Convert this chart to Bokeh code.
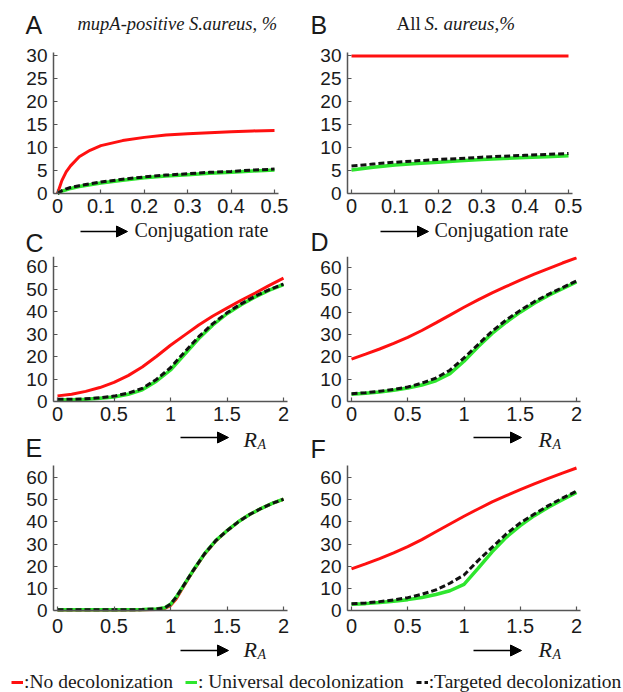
from bokeh.plotting import figure
from bokeh.layouts import column, row
from bokeh.models import Label, Arrow, NormalHead, FixedTicker, Legend, LegendItem, Range1d
from bokeh.embed import file_html
from bokeh.resources import INLINE

# ---------------- data ----------------
conj_rate_a = [0, 0.01, 0.02, 0.03, 0.05, 0.075, 0.1, 0.15, 0.2, 0.25, 0.3, 0.35, 0.4, 0.45, 0.5]
a_none = [0, 2.8, 4.7, 6.0, 8.0, 9.4, 10.4, 11.5, 12.2, 12.7, 13.0, 13.2, 13.4, 13.6, 13.7]
a_universal = [0, 0.5, 0.8, 1.1, 1.5, 1.9, 2.3, 2.9, 3.4, 3.8, 4.1, 4.4, 4.6, 4.9, 5.1]
a_targeted = [0, 0.6, 1.0, 1.3, 1.7, 2.1, 2.5, 3.1, 3.6, 4.0, 4.3, 4.6, 4.8, 5.1, 5.3]

conj_rate_b = [0, 0.05, 0.1, 0.15, 0.2, 0.25, 0.3, 0.35, 0.4, 0.45, 0.5]
b_none = [29.9, 29.9, 29.9, 29.9, 29.9, 29.9, 29.9, 29.9, 29.9, 29.9, 29.9]
b_universal = [5.1, 5.7, 6.2, 6.5, 6.8, 7.1, 7.4, 7.6, 7.8, 8.0, 8.2]
b_targeted = [6.0, 6.4, 6.8, 7.1, 7.4, 7.6, 7.9, 8.1, 8.3, 8.5, 8.7]

ra = [0, 0.125, 0.25, 0.375, 0.5, 0.625, 0.75, 0.875, 1.0, 1.125, 1.25, 1.375, 1.5, 1.625, 1.75, 1.875, 2.0]
c_none = [2.5, 3.2, 4.5, 6.2, 8.5, 11.5, 15.3, 20.0, 25.0, 29.5, 34.0, 38.0, 41.5, 45.0, 48.2, 51.6, 54.8]
c_universal = [0.8, 0.8, 1.0, 1.4, 2.0, 3.2, 5.2, 9.0, 14.0, 21.0, 28.0, 34.0, 39.0, 43.0, 46.5, 49.5, 52.0]
c_targeted = [1.0, 1.0, 1.2, 1.7, 2.4, 3.7, 5.8, 9.8, 15.0, 22.0, 28.8, 34.6, 39.4, 43.4, 46.8, 49.7, 52.2]

d_none = [19.0, 21.2, 23.5, 26.0, 28.7, 31.8, 35.2, 38.7, 42.2, 45.5, 48.6, 51.5, 54.3, 57.0, 59.5, 62.0, 64.3]
d_universal = [3.3, 3.7, 4.3, 5.0, 6.0, 7.4, 9.3, 12.5, 18.0, 24.5, 30.5, 35.5, 40.0, 44.0, 47.5, 50.5, 53.5]
d_targeted = [3.5, 3.9, 4.6, 5.4, 6.5, 8.2, 10.5, 14.0, 19.5, 25.5, 31.5, 36.5, 40.8, 44.7, 48.0, 51.0, 54.0]

ra_e = [0, 0.25, 0.5, 0.75, 0.875, 0.95, 1.0, 1.05, 1.1, 1.2, 1.3, 1.4, 1.5, 1.6, 1.7, 1.8, 1.9, 2.0]
e_none = [0.2, 0.2, 0.2, 0.3, 0.5, 0.9, 2.2, 5.2, 9.5, 17.8, 25.3, 31.3, 36.0, 40.0, 43.3, 46.0, 48.3, 50.2]
e_universal = [0.3, 0.3, 0.3, 0.4, 0.7, 1.2, 2.8, 6.0, 10.0, 18.0, 25.5, 31.5, 36.0, 40.0, 43.3, 46.0, 48.3, 50.2]
e_targeted = [0.3, 0.3, 0.3, 0.4, 0.7, 1.2, 2.8, 6.0, 10.0, 18.0, 25.5, 31.5, 36.0, 40.0, 43.3, 46.0, 48.3, 50.2]

f_none = [18.8, 21.0, 23.4, 26.0, 28.8, 32.0, 35.5, 39.0, 42.5, 45.8, 49.0, 51.8, 54.5, 57.1, 59.6, 62.0, 64.3]
f_universal = [2.8, 3.1, 3.6, 4.2, 4.9, 5.9, 7.2, 8.9, 11.8, 19.0, 26.5, 33.0, 38.3, 42.8, 46.6, 50.0, 53.3]
f_targeted = [3.0, 3.4, 4.0, 4.8, 5.8, 7.3, 9.3, 12.3, 16.0, 22.5, 28.5, 34.5, 39.5, 43.5, 47.3, 50.7, 53.8]

conj_ticks = [0, 0.1, 0.2, 0.3, 0.4, 0.5]
conj_tick_labels = ["0", "0.1", "0.2", "0.3", "0.4", "0.5"]
ra_ticks = [0, 0.5, 1, 1.5, 2]
ra_tick_labels = ["0", "0.5", "1", "1.5", "2"]
pct_ticks_top = [0, 5, 10, 15, 20, 25, 30]
pct_ticks_lower = [0, 10, 20, 30, 40, 50, 60]

series_names = [":No decolonization", ": Universal decolonization", ":Targeted decolonization"]

# ---------------- style ----------------
RED = "#ff1010"
GREEN = "#2ee62e"
BLACK = "#111111"
AXIS = "#555555"
SANS = "Liberation Sans"
SERIF = "Liberation Serif"


def make_panel(page_left, page_top, width, height, frame, xmap, ymap,
               xticks, xlabels, yticks, x_standoff):
    """Frame covers the whole canvas; axes sit at fixed locations with bounds."""
    L, R, T, B = frame
    px0, v0, px1, v1 = xmap
    sx = (v1 - v0) / (px1 - px0)
    py0, w0, py1, w1 = ymap
    sy = (w1 - w0) / (py0 - py1)

    def vx(px):
        return v0 + (px - px0) * sx

    def vy(py):
        return w0 + (py0 - py) * sy

    p = figure(width=width, height=height,
               x_range=Range1d(vx(page_left), vx(page_left + width)),
               y_range=Range1d(vy(page_top + height), vy(page_top)),
               output_backend="svg", toolbar_location=None, min_border=0)
    p.grid.visible = False
    p.outline_line_color = None
    for ax in (p.xaxis[0], p.yaxis[0]):
        ax.axis_line_color = AXIS
        ax.axis_line_width = 1.5
        ax.major_tick_line_color = AXIS
        ax.major_tick_line_width = 1.2
        ax.major_tick_in = 4
        ax.major_tick_out = 0
        ax.minor_tick_in = 0
        ax.minor_tick_out = 0
        ax.major_label_text_font = SANS
        ax.major_label_text_color = "#1a1a1a"
    xa = p.xaxis[0]
    xa.fixed_location = vy(B)
    xa.bounds = (vx(L), vx(R))
    xa.ticker = FixedTicker(ticks=xticks)
    xa.major_label_overrides = dict(zip(xticks, xlabels))
    xa.major_label_text_font_size = "20px"
    xa.major_label_standoff = x_standoff
    ya = p.yaxis[0]
    ya.fixed_location = vx(L)
    ya.bounds = (vy(B), vy(T))
    ya.ticker = FixedTicker(ticks=yticks)
    ya.major_label_overrides = {t: str(t) for t in yticks}
    ya.major_label_text_font_size = "19px"
    ya.major_label_standoff = 6

    def conv(px, py):
        return vx(px), vy(py)
    return p, conv


def draw(p, x, none, universal, targeted):
    p.line(x, none, line_color=RED, line_width=3)
    p.line(x, universal, line_color=GREEN, line_width=3.5)
    p.line(x, targeted, line_color=BLACK, line_width=3, line_dash="6 3")


def text(p, conv, px, baseline, s, size, font=SERIF, style="normal", color="#1a1a1a"):
    # anchor at the vertical middle of the text box, ~0.35em above the baseline
    x, y = conv(px, baseline - 0.35 * size)
    p.add_layout(Label(x=x, y=y, text=s, text_font=font, text_font_size=f"{size}px",
                       text_font_style=style, text_color=color,
                       text_align="left", text_baseline="middle"))


def arrow(p, conv, pxa, pxb, py):
    xa, ya = conv(pxa, py)
    xb, yb = conv(pxb, py)
    p.add_layout(Arrow(x_start=xa, y_start=ya, x_end=xb, y_end=yb,
                       line_color="black", line_width=1.5,
                       end=NormalHead(size=11, fill_color="black", line_color="black")))


def ra_label(p, conv, px, py):
    text(p, conv, px, py, "R", 22, style="italic")
    text(p, conv, px + 14, py + 2, "A", 14, style="italic")


# Row 1 (page y 0..256)
pa, ca = make_panel(0, 0, 310, 256, (53, 278, 52, 193), (57, 0, 274, 0.5), (193, 0, 55, 30),
                    conj_ticks, conj_tick_labels, pct_ticks_top, 5)
draw(pa, conj_rate_a, a_none, a_universal, a_targeted)
text(pa, ca, 25, 33, "A", 25, font=SANS)
text(pa, ca, 77, 30, "mupA-positive S.aureus, %", 18.5, style="italic")
arrow(pa, ca, 80, 127, 231)
text(pa, ca, 134, 236, "Conjugation rate", 20)
text(pa, ca, 25, 251, "C", 25, font=SANS)

pb, cb = make_panel(310, 0, 313, 256, (347, 572, 52, 193), (351, 0, 568, 0.5), (193, 0, 55, 30),
                    conj_ticks, conj_tick_labels, pct_ticks_top, 5)
draw(pb, conj_rate_b, b_none, b_universal, b_targeted)
text(pb, cb, 310, 33, "B", 25, font=SANS)
text(pb, cb, 396, 30, "All", 19)
text(pb, cb, 424, 30, "S. aureus,%", 19, style="italic")
arrow(pb, cb, 380, 428, 231)
text(pb, cb, 434, 236, "Conjugation rate", 20)
text(pb, cb, 310, 250, "D", 25, font=SANS)

# Row 2 (page y 256..463)
pc, cc = make_panel(0, 256, 310, 207, (53, 287, 255, 401), (57, 0, 283, 2), (401, 0, 266, 60),
                    ra_ticks, ra_tick_labels, pct_ticks_lower, 5)
draw(pc, ra, c_none, c_universal, c_targeted)
arrow(pc, cc, 180, 228, 437)
ra_label(pc, cc, 243, 447)
text(pc, cc, 25, 456, "E", 25, font=SANS)

pd, cd = make_panel(310, 256, 313, 207, (347, 580, 255, 401), (351, 0, 576, 2), (401, 0, 267, 60),
                    ra_ticks, ra_tick_labels, pct_ticks_lower, 5)
draw(pd, ra, d_none, d_universal, d_targeted)
arrow(pd, cd, 473, 521, 437)
ra_label(pd, cd, 538, 447)
text(pd, cd, 310, 457, "F", 25, font=SANS)

# Row 3 (page y 463..672)
pe, ce = make_panel(0, 463, 310, 209, (53, 287, 465, 610), (57, 0, 283, 2), (610, 0, 477, 60),
                    ra_ticks, ra_tick_labels, pct_ticks_lower, 8)
draw(pe, ra_e, e_none, e_universal, e_targeted)
arrow(pe, ce, 180, 228, 650)
ra_label(pe, ce, 243, 657)

pf, cf = make_panel(310, 463, 313, 209, (347, 580, 465, 610), (351, 0, 576, 2), (610, 0, 477, 60),
                    ra_ticks, ra_tick_labels, pct_ticks_lower, 8)
draw(pf, ra, f_none, f_universal, f_targeted)
arrow(pf, cf, 473, 521, 650)
ra_label(pf, cf, 538, 657)

# Legend strip (page y 672..692)
pl = figure(width=623, height=20, x_range=Range1d(0, 1), y_range=Range1d(0, 1),
            output_backend="svg", toolbar_location=None,
            x_axis_location=None, y_axis_location=None, min_border=0)
pl.grid.visible = False
pl.outline_line_color = None
r1 = pl.line(x=ra_e, y=e_none, line_color=RED, line_width=3, visible=False)
r2 = pl.line(x=ra_e, y=e_universal, line_color=GREEN, line_width=3, visible=False)
r3 = pl.line(x=ra_e, y=e_targeted, line_color=BLACK, line_width=3, line_dash="5 3", visible=False)
legend = Legend(items=[LegendItem(label=series_names[0], renderers=[r1]),
                       LegendItem(label=series_names[1], renderers=[r2]),
                       LegendItem(label=series_names[2], renderers=[r3])],
                orientation="horizontal", location="center_left", margin=11, padding=0,
                spacing=12, glyph_width=12, glyph_height=16, label_standoff=1,
                label_height=16, label_text_font=SERIF, label_text_font_size="19.5px",
                label_text_color="#1a1a1a",
                border_line_color=None, background_fill_alpha=0)
pl.add_layout(legend)

layout = column(row(pa, pb), row(pc, pd), row(pe, pf), pl)

open("out.html", "w").write(file_html(layout, INLINE))
